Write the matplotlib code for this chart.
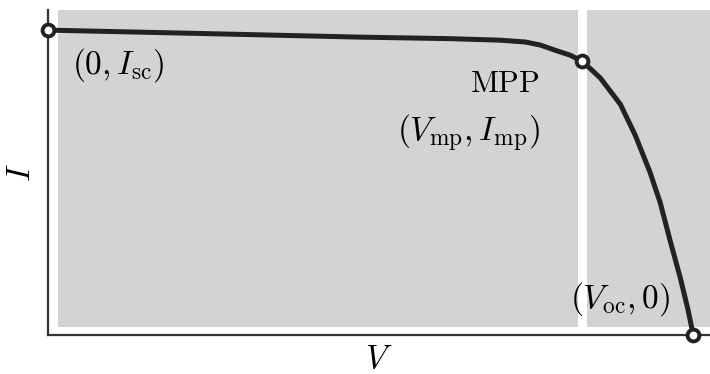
import numpy as np
import matplotlib
matplotlib.use("Agg")
import matplotlib.pyplot as plt

plt.rcParams["mathtext.fontset"] = "cm"
plt.rcParams["font.family"] = "serif"

# I-V curve of a solar cell, normalised so that V_oc = 1 and I_sc = 1
voltage = [0.0, 0.236, 0.484, 0.623, 0.701, 0.740, 0.763, 0.786, 0.809, 0.828,
           0.856, 0.887, 0.910, 0.933, 0.949, 0.964, 0.980, 0.992, 1.0]
current = [1.0, 0.989, 0.977, 0.972, 0.967, 0.961, 0.951, 0.934, 0.918, 0.898,
           0.843, 0.757, 0.656, 0.534, 0.433, 0.311, 0.187, 0.082, 0.0]

v_mp, i_mp = 0.828, 0.898
i_sc = 1.0
v_oc = 1.0

fig = plt.figure(figsize=(7.10, 3.74), dpi=100)
ax = fig.add_axes([48 / 710, 39 / 374, 662 / 710, 325 / 374])

xmax = 1.026
ymax = 1.066
ax.set_xlim(0, xmax)
ax.set_ylim(0, ymax)

# shaded regions on either side of the maximum power point
gray = "#d3d3d3"
gap = 0.007
ax.axvspan(0.0155, v_mp - gap, ymin=0.025, ymax=1, color=gray, lw=0, zorder=0)
ax.axvspan(v_mp + gap, xmax, ymin=0.025, ymax=1, color=gray, lw=0, zorder=0)

ax.plot(voltage, current, color="#222222", lw=3.6, solid_capstyle="round",
        solid_joinstyle="round", zorder=3, clip_on=False)

pts_v = [0.0, v_mp, v_oc]
pts_i = [i_sc, i_mp, 0.0]
ax.plot(pts_v, pts_i, ls="none", marker="o", ms=8.5, mew=2.8,
        mec="#222222", mfc="white", zorder=4, clip_on=False)

fs = 24
ax.annotate(r"$(0, I_{\rm sc})$", (0, i_sc), xytext=(70, -35),
            textcoords="offset pixels", ha="center", va="center", fontsize=fs)
ax.annotate(r"$\mathrm{MPP}$", (v_mp, i_mp), xytext=(-42, -22),
            textcoords="offset pixels", ha="right", va="center", fontsize=22)
ax.annotate(r"$(V_{\rm mp}, I_{\rm mp})$", (v_mp, i_mp), xytext=(-42, -72),
            textcoords="offset pixels", ha="right", va="center", fontsize=fs)
ax.annotate(r"$(V_{\rm oc}, 0)$", (v_oc, 0), xytext=(-73, 36),
            textcoords="offset pixels", ha="center", va="center", fontsize=fs)

ax.set_xlabel(r"$V$", fontsize=fs, labelpad=6)
ax.set_ylabel(r"$I$", fontsize=fs, labelpad=8)

ax.set_xticks([])
ax.set_yticks([])
for side in ["top", "right"]:
    ax.spines[side].set_visible(False)
for side in ["left", "bottom"]:
    ax.spines[side].set_color("#333333")
    ax.spines[side].set_linewidth(1.6)

fig.savefig("out.png", dpi=100)
